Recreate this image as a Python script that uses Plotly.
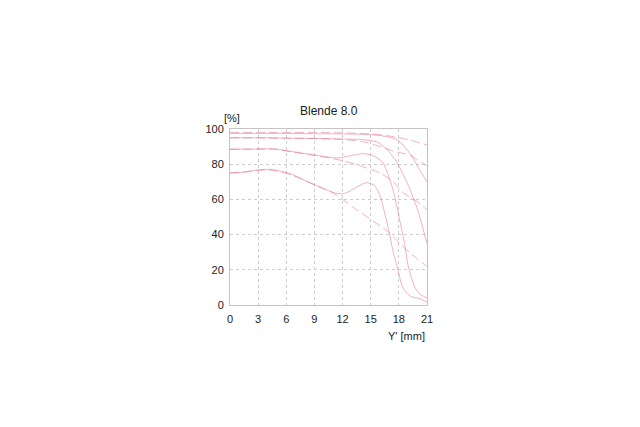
import plotly.graph_objects as go

# Image height Y' [mm] and contrast [%]
s5_x = [0, 3, 6, 9, 12, 14, 16, 17.8, 19.2, 20.3, 21]
s5_y = [97.5, 97.5, 97.5, 97.3, 97.2, 97, 96.3, 94, 86, 76, 70]

t5_x = [0, 3, 6, 9, 12, 15, 17, 19, 20.3, 21]
t5_y = [98, 98, 98, 98, 97.8, 97.2, 96, 94, 92, 91]

s10_x = [0, 3, 6, 9, 12, 14, 15.7, 16.7, 17.8, 19, 20, 21]
s10_y = [95, 95, 94.8, 94.6, 94.3, 94, 92.6, 88.6, 81, 68, 54, 35]

t10_x = [0, 3, 6, 9, 12, 14, 16, 17.4, 19.2, 21]
t10_y = [95, 95, 94.8, 94.6, 94, 93, 90, 87.5, 85, 79]

s20_x = [0, 3, 4.8, 6.6, 9, 11.5, 13, 14.2, 15.2, 16.3, 17.4, 18.1, 18.6, 19.0, 19.7, 20.3, 21]
s20_y = [88.5, 88.6, 88.6, 87.2, 85.2, 83.5, 85, 86, 85, 81, 65, 48, 35, 22, 10, 6, 4]

t20_x = [0, 3, 4.8, 6.6, 9, 12, 14.5, 16, 17.4, 18.4, 19.9, 21]
t20_y = [88.5, 88.6, 88.6, 87, 85, 82, 78, 75, 70, 64, 59, 54]

s40_x = [0, 1.5, 3, 4.5, 6.5, 8.3, 10.5, 11.3, 12, 12.7, 13.5, 14.5, 15.4, 16.0, 16.5, 16.9, 17.4, 17.9, 18.4, 19.2, 20.3, 21]
s40_y = [75, 75.5, 76.8, 77, 74.5, 70, 65, 63.5, 63.2, 64.5, 67, 69.5, 68, 62, 52, 43, 30, 20, 10, 5, 3.5, 1.5]

t40_x = [0, 1.5, 3, 4.5, 6.5, 8.3, 10, 11, 13.1, 14.6, 16, 17, 18.1, 18.9, 20, 21]
t40_y = [75, 75.5, 76.5, 76.5, 74, 70, 66, 63.6, 55.7, 50, 45, 41, 35, 31, 26, 22]

x_ticks = [0, 3, 6, 9, 12, 15, 18, 21]
y_ticks = [0, 20, 40, 60, 80, 100]

fig = go.Figure()
line_col = "rgba(225,100,125,0.62)"
series = [
    (s5_x, s5_y, "solid"), (t5_x, t5_y, "dash"),
    (s10_x, s10_y, "solid"), (t10_x, t10_y, "dash"),
    (s20_x, s20_y, "solid"), (t20_x, t20_y, "dash"),
    (s40_x, s40_y, "solid"), (t40_x, t40_y, "dash"),
]
for xs, ys, dash in series:
    fig.add_trace(go.Scatter(
        x=xs, y=ys, mode="lines",
        line=dict(color=line_col, width=0.8, dash="9px,4px" if dash == "dash" else "solid",
                  shape="spline", smoothing=0.6),
        showlegend=False, hoverinfo="skip"))

font = dict(family="Liberation Sans, Arial, sans-serif", size=11, color="#222")
title_font = dict(family="Liberation Sans, Arial, sans-serif", size=12, color="#222")
fig.update_layout(
    width=640, height=427,
    margin=dict(l=222, r=221, t=121, b=130),
    paper_bgcolor="white", plot_bgcolor="white",
    font=font, showlegend=False,
    xaxis=dict(range=[0, 21], tickvals=x_ticks, ticktext=[str(v) for v in x_ticks],
               showgrid=True, gridcolor="#cccccc", griddash="dot", gridwidth=1,
               showline=True, linecolor="#c4c4c4", linewidth=1, mirror=True,
               zeroline=False, ticks="", tickfont=font, ticklabelstandoff=4),
    yaxis=dict(range=[0, 100], tickvals=y_ticks, ticktext=[str(v) for v in y_ticks],
               showgrid=True, gridcolor="#cccccc", griddash="dot", gridwidth=1,
               showline=True, linecolor="#c4c4c4", linewidth=1, mirror=True,
               zeroline=False, ticks="", tickfont=font, ticklabelstandoff=3),
    annotations=[
        dict(text="Blende 8.0", xref="paper", yref="paper", x=0.5, y=1.0, yshift=18,
             showarrow=False, xanchor="center", yanchor="middle", font=title_font),
        dict(text="[%]", xref="paper", yref="paper", x=0.0, y=1.0, yshift=11, xshift=-8,
             showarrow=False, xanchor="left", yanchor="middle", font=font),
        dict(text="Y' [mm]", xref="paper", yref="paper", x=1.0, y=0.0, yshift=-31,
             showarrow=False, xanchor="right", yanchor="middle", font=font),
    ],
)
fig.write_html("out.html")
